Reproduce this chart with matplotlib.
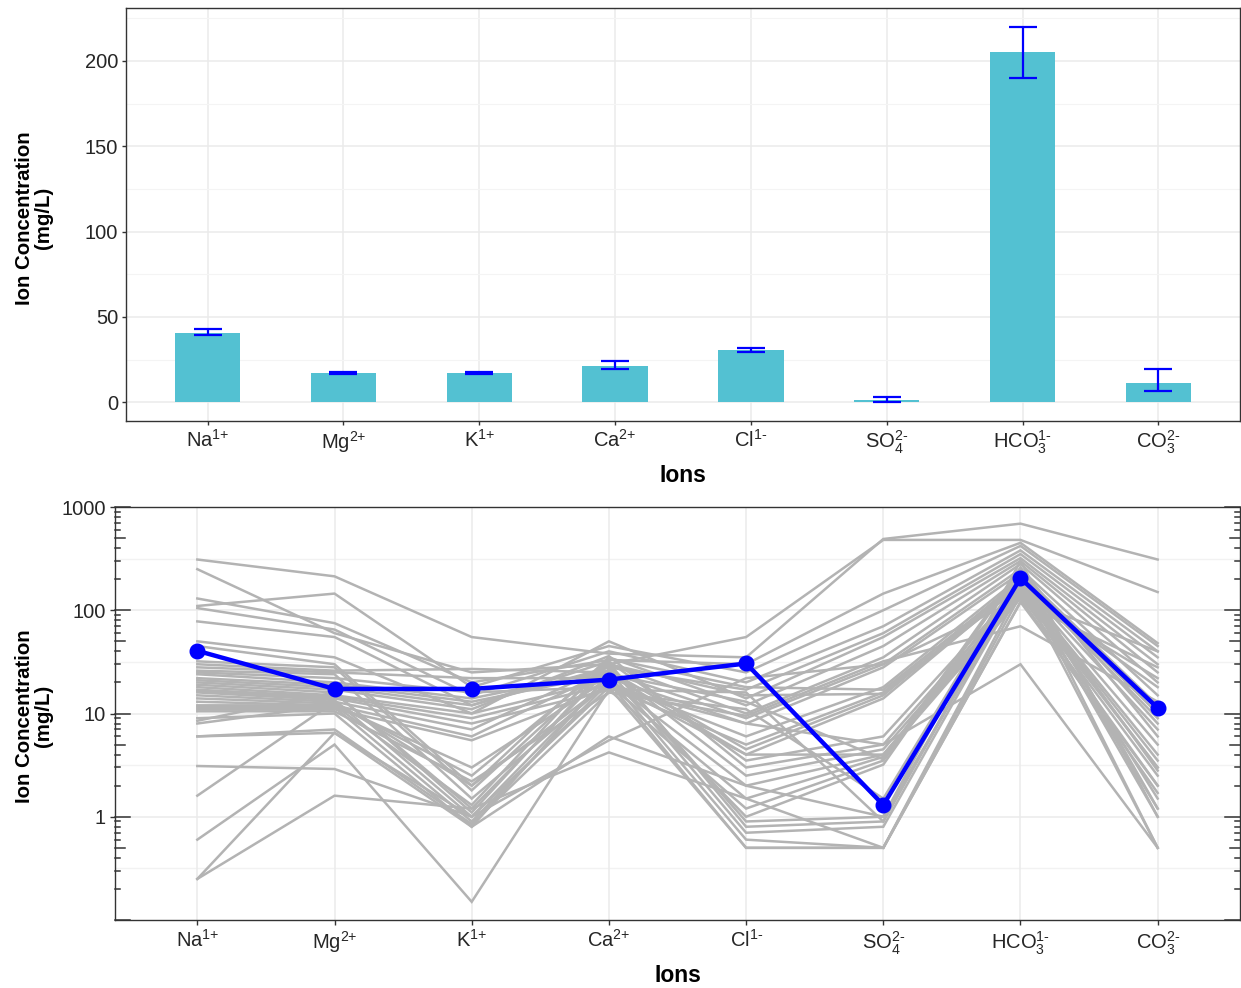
import numpy as np
import matplotlib
matplotlib.use("Agg")
import matplotlib.pyplot as plt
from matplotlib.transforms import blended_transform_factory
from matplotlib.mathtext import MathTextParser

plt.rcParams['font.family'] = ['Liberation Sans', 'DejaVu Sans']
plt.rcParams['mathtext.fontset'] = 'custom'
plt.rcParams['mathtext.rm'] = 'Liberation Sans'
plt.rcParams['mathtext.it'] = 'Liberation Sans:italic'
plt.rcParams['mathtext.bf'] = 'Liberation Sans:bold'

# plain hyphen / plus signs in superscripts if \text is supported
try:
    MathTextParser('agg').parse(r"$^{\text{1+}}$", dpi=100)
    def sup(s):
        return r"\text{" + s + "}"
except Exception:
    def sup(s):
        return s

# ---------------- data ----------------
ions = ["Na", "Mg", "K", "Ca", "Cl", "SO4", "HCO3", "CO3"]
ion_labels = ["Na$^{" + sup("1+") + "}$", "Mg$^{" + sup("2+") + "}$",
              "K$^{" + sup("1+") + "}$", "Ca$^{" + sup("2+") + "}$",
              "Cl$^{" + sup("1-") + "}$", "SO$_{4}^{" + sup("2-") + "}$",
              "HCO$_{3}^{" + sup("1-") + "}$", "CO$_{3}^{" + sup("2-") + "}$"]

mean_conc = [40.5, 17.3, 17.3, 21.3, 30.5, 1.3, 205, 11.3]
err_low = [39.2, 16.4, 16.4, 19.3, 29.2, 0.2, 190, 6.5]
err_high = [43.2, 18.0, 18.0, 24.0, 32.0, 3.0, 220, 19.2]

# individual samples (one list per ion, same sample order)
na = [310, 250, 130, 110, 105, 78, 50, 45, 32, 30, 28, 26, 25, 24, 22, 21, 20, 19, 18, 17,
      16.5, 16, 15, 14, 13, 12, 11.5, 11, 10.5, 9, 8.5, 8, 6, 6, 3.1, 1.6, 0.6, 0.25, 0.25]
mg = [213, 60, 75, 145, 65, 55, 35, 30, 28, 26, 25, 24, 22, 20, 19, 18, 17, 16, 15, 14.5,
      14, 13.5, 13, 12.5, 12, 12, 11.5, 11, 10.5, 10, 16, 12, 6.5, 7, 2.9, 13, 5, 1.6, 6.5]
k = [55, 25, 20, 18, 15, 12, 10, 2.0, 1.8, 27, 22, 1.5, 16, 14, 13, 12, 11, 1.2, 10, 9,
     8, 1.0, 7, 2.5, 6, 3, 0.9, 5.5, 2.2, 0.8, 1.1, 1.3, 1.0, 0.85, 1.0, 2.0, 0.15, 1.2, 0.8]
ca = [38, 30, 33, 45, 40, 28, 50, 35, 30, 25, 22, 20, 18, 26, 24, 32, 36, 27, 21, 19,
      17, 23, 29, 31, 26, 22, 20, 18, 16, 24, 30, 34, 5.5, 16, 18, 20, 17, 4.2, 6]
cl = [35, 55, 30, 25, 20, 17, 14, 12, 10, 9, 8, 6, 5, 4.5, 4, 3.5, 3, 2.5, 2, 1.5,
      1.2, 1.0, 0.9, 0.8, 0.7, 0.6, 0.5, 0.5, 11, 13, 15, 18, 22, 9.5, 8, 4, 16, 1.5, 2]
so4 = [490, 480, 145, 100, 70, 60, 55, 45, 35, 30, 28, 18, 16, 15, 14, 6, 5, 4.5, 4, 3.8,
       3.5, 3.2, 1.0, 0.9, 0.8, 0.5, 0.5, 0.5, 1.5, 3.6, 15.5, 17, 30, 32, 5, 4, 0.9, 0.5, 1.0]
hco3 = [690, 480, 450, 420, 380, 350, 320, 300, 280, 250, 230, 210, 200, 190, 180, 170, 160, 150, 140, 130,
        200, 250, 300, 220, 180, 160, 140, 120, 230, 260, 170, 190, 130, 70, 30, 150, 200, 120, 180]
co3 = [310, 150, 48, 45, 40, 35, 30, 25, 20, 15, 12, 10, 9, 7, 5, 4, 3, 2.5, 2, 1.7,
       1.5, 1.2, 1.0, 0.5, 0.5, 18, 22, 28, 8, 6, 3.5, 2.8, 40, 13, 0.5, 3, 1.0, 2, 1.2]

# ---------------- style ----------------
W, H = 1241, 988
fig = plt.figure(figsize=(W / 100, H / 100), dpi=100)
bar_color = "#53C1D2"
grid_col = "#EBEBEB"
spine_col = "#333333"
text_col = "#262626"
tick_fs = 14.5

def fx(px):
    return px / W

def fy(py):
    return 1 - py / H

x = np.arange(1, len(ions) + 1)

# ---------------- top panel ----------------
ax1 = fig.add_axes([fx(126), fy(421), fx(1240) - fx(126), fy(8) - fy(421)])
ax1.set_axisbelow(True)
ax1.bar(x, mean_conc, width=0.48, color=bar_color, zorder=2)
yerr = [np.array(mean_conc) - np.array(err_low), np.array(err_high) - np.array(mean_conc)]
ax1.errorbar(x, mean_conc, yerr=yerr, fmt='none', ecolor='#0000FF', elinewidth=1.6,
             capsize=10, capthick=1.6, zorder=3)
ax1.set_xlim(0.4, 8.6)
ax1.set_ylim(-11, 231)
ax1.set_yticks([0, 50, 100, 150, 200])
ax1.set_yticks([25, 75, 125, 175, 225], minor=True)
ax1.set_xticks(x)
ax1.set_xticklabels(ion_labels)
ax1.grid(True, which='major', color=grid_col, lw=1.1)
ax1.grid(True, which='minor', axis='y', color='#F4F4F4', lw=0.8)
ax1.tick_params(axis='both', which='major', length=3.2, width=1.0, color=spine_col,
                labelsize=tick_fs, labelcolor=text_col, pad=2.5)
ax1.tick_params(axis='y', which='minor', length=0)
for s in ax1.spines.values():
    s.set_color(spine_col)
    s.set_linewidth(1.0)

# ---------------- bottom panel ----------------
ax2 = fig.add_axes([fx(115), fy(920), fx(1240) - fx(115), fy(507) - fy(920)])
ax2.set_axisbelow(True)
ax2.set_yscale('log')
samples = np.array([na, mg, k, ca, cl, so4, hco3, co3]).T
for row in samples:
    ax2.plot(x, row, color='#B3B3B3', lw=1.8, zorder=2, solid_joinstyle='miter')
ax2.plot(x, mean_conc, color='#0000FF', lw=3.2, marker='o', markersize=10.5, zorder=3)
ax2.set_xlim(0.4, 8.6)
ax2.set_ylim(0.1, 1000)
ax2.set_yticks([1, 10, 100, 1000])
ax2.set_yticklabels(["1", "10", "100", "1000"])
ax2.yaxis.set_minor_locator(matplotlib.ticker.NullLocator())
ax2.set_xticks(x)
ax2.set_xticklabels(ion_labels)
ax2.grid(True, which='major', color=grid_col, lw=1.1)
for e in [-0.5, 0.5, 1.5, 2.5]:
    ax2.axhline(10 ** e, color='#F2F2F2', lw=1.0, zorder=0)
ax2.tick_params(axis='both', which='major', length=3.6, width=1.0, color=spine_col,
                labelsize=tick_fs, labelcolor=text_col, pad=3)
for s in ax2.spines.values():
    s.set_color(spine_col)
    s.set_linewidth(1.0)

# log tick annotation on left and right sides
tr = blended_transform_factory(ax2.transAxes, ax2.transData)
ax_w_px = 1240 - 115
for dec in range(-1, 3):
    for m in range(1, 10):
        v = m * 10.0 ** dec
        if v < 0.1 or v > 1000:
            continue
        L = 15 if m == 1 else (10 if m == 5 else 5)
        f = L / ax_w_px
        ax2.plot([0, f], [v, v], color=spine_col, lw=1.1, transform=tr, clip_on=False, zorder=4)
        ax2.plot([1 - f, 1], [v, v], color=spine_col, lw=1.1, transform=tr, clip_on=False, zorder=4)
v = 1000.0
ax2.plot([0, 15 / ax_w_px], [v, v], color=spine_col, lw=1.1, transform=tr, clip_on=False, zorder=4)
ax2.plot([1 - 15 / ax_w_px, 1], [v, v], color=spine_col, lw=1.1, transform=tr, clip_on=False, zorder=4)

# ---------------- titles ----------------
ytitle = "Ion Concentration\n(mg/L)"
fig.text(fx(34), fy(218), ytitle, rotation=90, ha='center', va='center', fontsize=14.7,
         fontweight='bold', multialignment='center', linespacing=1.05)
fig.text(fx(34), fy(716), ytitle, rotation=90, ha='center', va='center', fontsize=14.7,
         fontweight='bold', multialignment='center', linespacing=1.05)
fig.text(fx(683), fy(476), "Ions", ha='center', va='center', fontsize=16.5, fontweight='bold')
fig.text(fx(678), fy(975), "Ions", ha='center', va='center', fontsize=16.5, fontweight='bold')

fig.savefig("out.png", dpi=100)
